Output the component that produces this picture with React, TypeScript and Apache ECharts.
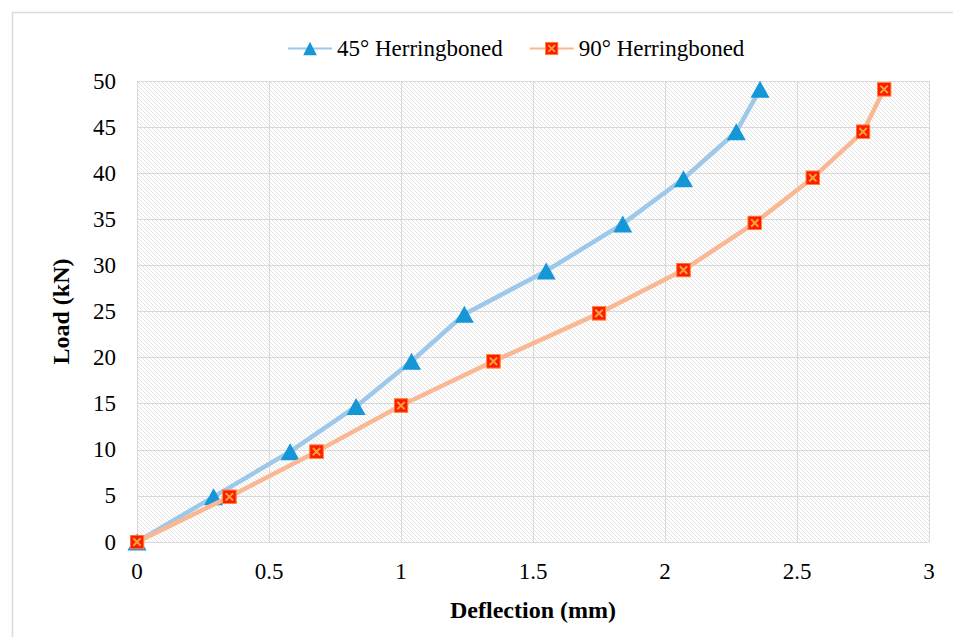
import React, { useEffect, useRef } from "react";
import * as echarts from "echarts";

const deflection45: number[] = [0, 0.29, 0.58, 0.83, 1.04, 1.24, 1.55, 1.84, 2.07, 2.27, 2.36];
const load45: number[] = [0, 4.9, 9.8, 14.7, 19.6, 24.7, 29.4, 34.5, 39.4, 44.5, 49.1];
const deflection90: number[] = [0, 0.35, 0.68, 1.0, 1.35, 1.75, 2.07, 2.34, 2.56, 2.75, 2.83];
const load90: number[] = [0, 4.9, 9.8, 14.8, 19.6, 24.8, 29.5, 34.6, 39.5, 44.5, 49.1];
const seriesNames: string[] = ["45° Herringboned", "90° Herringboned"];

const FONT = "Liberation Serif";

const hatchSvg =
  "<svg xmlns='http://www.w3.org/2000/svg' width='4' height='4' viewBox='0 0 4 4'>" +
  "<rect width='4' height='4' fill='#ffffff'/>" +
  "<path d='M0,0 L4,4 M-1,3 L1,5 M3,-1 L5,1' stroke='#e0e0e0' stroke-width='0.9'/></svg>";
const hatchURL = "data:image/svg+xml;charset=utf-8," + encodeURIComponent(hatchSvg);

const squareSvg =
  "<svg xmlns='http://www.w3.org/2000/svg' width='30' height='30' viewBox='0 0 15 15'>" +
  "<rect x='0.6' y='0.6' width='13.8' height='13.8' fill='#FF1A00' stroke='#FF8A3A' stroke-width='1.2'/>" +
  "<path d='M3.8 3.8 L11.2 11.2 M11.2 3.8 L3.8 11.2' stroke='#F9A43A' stroke-width='2'/></svg>";
const squareSymbol = "image://data:image/svg+xml;charset=utf-8," + encodeURIComponent(squareSvg);

export default function App() {
  const ref = useRef<HTMLDivElement>(null);

  useEffect(() => {
    if (!ref.current) return;
    const chart = echarts.init(ref.current, null, { renderer: "svg" });
    const pts45 = deflection45.map((d, i) => [d, load45[i]]);
    const pts90 = deflection90.map((d, i) => [d, load90[i]]);
    chart.setOption({
      animation: false,
      backgroundColor: "#ffffff",
      graphic: [
        {
          type: "rect",
          shape: { x: 12.5, y: 12.5, width: 960, height: 640 },
          style: { fill: "none", stroke: "#d9d9d9", lineWidth: 1.5 },
          silent: true,
          z: -10,
        },
      ],
      legend: {
        top: 37,
        left: 287,
        padding: 0,
        itemWidth: 44,
        itemHeight: 17,
        itemGap: 26,
        textStyle: { fontFamily: FONT, fontSize: 23, color: "#000" },
        data: seriesNames,
      },
      grid: {
        left: 137,
        right: 24,
        top: 81,
        bottom: 95,
        show: true,
        borderWidth: 0,
        backgroundColor: { image: hatchURL, repeat: "repeat", imageWidth: 4, imageHeight: 4 },
      },
      xAxis: {
        type: "value",
        min: 0,
        max: 3,
        interval: 0.5,
        name: "Deflection (mm)",
        nameLocation: "middle",
        nameGap: 56,
        nameTextStyle: { fontFamily: FONT, fontSize: 24, fontWeight: "bold", color: "#000" },
        axisLine: { show: true, lineStyle: { color: "#d9d9d9", width: 1 } },
        axisTick: { show: false },
        axisLabel: { fontFamily: FONT, fontSize: 23, color: "#000", margin: 18 },
        splitLine: { show: true, lineStyle: { color: "#d9d9d9", width: 1 } },
      },
      yAxis: {
        type: "value",
        min: 0,
        max: 50,
        interval: 5,
        name: "Load (kN)",
        nameLocation: "middle",
        nameGap: 64,
        nameRotate: 90,
        nameTextStyle: { fontFamily: FONT, fontSize: 24, fontWeight: "bold", color: "#000" },
        axisLine: { show: false },
        axisTick: { show: false },
        axisLabel: { fontFamily: FONT, fontSize: 23, color: "#000", margin: 21 },
        splitLine: { show: true, lineStyle: { color: "#d9d9d9", width: 1 } },
      },
      series: [
        {
          name: seriesNames[0],
          type: "line",
          data: pts45,
          symbol: "triangle",
          symbolSize: [19, 17],
          lineStyle: { color: "#9DC8EA", width: 4.5 },
          itemStyle: { color: "#1596D6" },
          z: 2,
        },
        {
          name: seriesNames[1],
          type: "line",
          data: pts90,
          symbol: squareSymbol,
          symbolSize: 15,
          lineStyle: { color: "#F9B894", width: 4.5 },
          itemStyle: { color: "#FF1A00" },
          z: 3,
        },
      ],
    });
    return () => chart.dispose();
  }, []);

  return (
    <div
      ref={ref}
      style={{ position: "fixed", left: 0, top: 0, width: 953, height: 637 }}
    />
  );
}
